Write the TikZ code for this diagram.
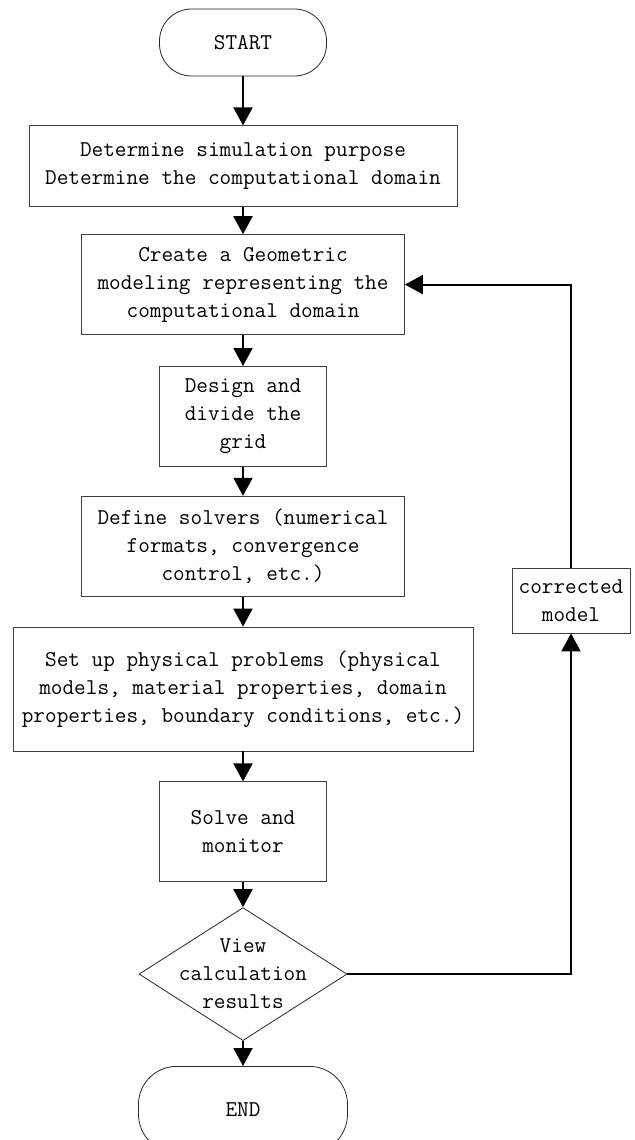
\documentclass[tikz,border=0pt]{standalone}
\usepackage{fontspec}
\usepackage{tikz}
\usetikzlibrary{arrows.meta,positioning,shapes.geometric}
\newcommand{\flowfont}{\ttfamily\fontsize{11.3pt}{14pt}\selectfont}
\tikzset{
  termbox/.style={draw=black!85,rounded corners=16pt,align=center,
    minimum width=83.5pt,minimum height=33.5pt,font=\flowfont},
  stepbox/.style={draw=black!75,align=center,inner sep=1.5pt,font=\flowfont},
  decisionbox/.style={diamond,draw=black!85,align=center,aspect=1.56,
    inner sep=-4pt,minimum width=104pt,minimum height=66.5pt,font=\flowfont},
  flowarrow/.style={-{Triangle[length=9pt,width=9.5pt]},line width=1pt}
}

\begin{document}
\begin{tikzpicture}
  \useasboundingbox (0,0) rectangle (317pt,-570pt);
  \node[termbox] (start) at (121.5pt,-21.25pt) {START};
  \node[stepbox,minimum width=214pt,minimum height=40.5pt,below=24.5pt of start] (purpose) {Determine simulation purpose\\Determine the computational domain};
  \node[stepbox,minimum width=161.5pt,minimum height=50pt,below=13.5pt of purpose] (geometry) {Create a Geometric\\modeling representing the\\computational domain};
  \node[stepbox,minimum width=83.5pt,minimum height=50pt,below=15.5pt of geometry] (grid) {Design and\\divide the\\grid};
  \node[stepbox,minimum width=161.5pt,minimum height=50pt,below=14.5pt of grid] (solver) {Define solvers (numerical\\formats, convergence\\control, etc.)};
  \node[stepbox,minimum width=230pt,minimum height=62pt,below=15pt of solver] (physics) {Set up physical problems (physical\\models, material properties, domain\\properties, boundary conditions, etc.)};
  \node[stepbox,minimum width=83.5pt,minimum height=50pt,below=15pt of physics] (solve) {Solve and\\monitor};
  \node[decisionbox,below=12.5pt of solve] (view) {View\\calculation\\results};
  \node[termbox,rounded corners=19pt,minimum width=104.5pt,minimum height=43pt,below=12.5pt of view] (end) {END};
  \node[stepbox,minimum width=59pt,minimum height=32.5pt] (corrected) at (285.5pt,-300.25pt) {corrected\\model};
  \draw[flowarrow] (start) -- (purpose);
  \draw[flowarrow] (purpose) -- (geometry);
  \draw[flowarrow] (geometry) -- (grid);
  \draw[flowarrow] (grid) -- (solver);
  \draw[flowarrow] (solver) -- (physics);
  \draw[flowarrow] (physics) -- (solve);
  \draw[flowarrow] (solve) -- (view);
  \draw[flowarrow] (view) -- (end);
  \draw[flowarrow] (view.east) -| (corrected.south);
  \draw[flowarrow] (corrected.north) |- (geometry.east);
\end{tikzpicture}
\end{document}
